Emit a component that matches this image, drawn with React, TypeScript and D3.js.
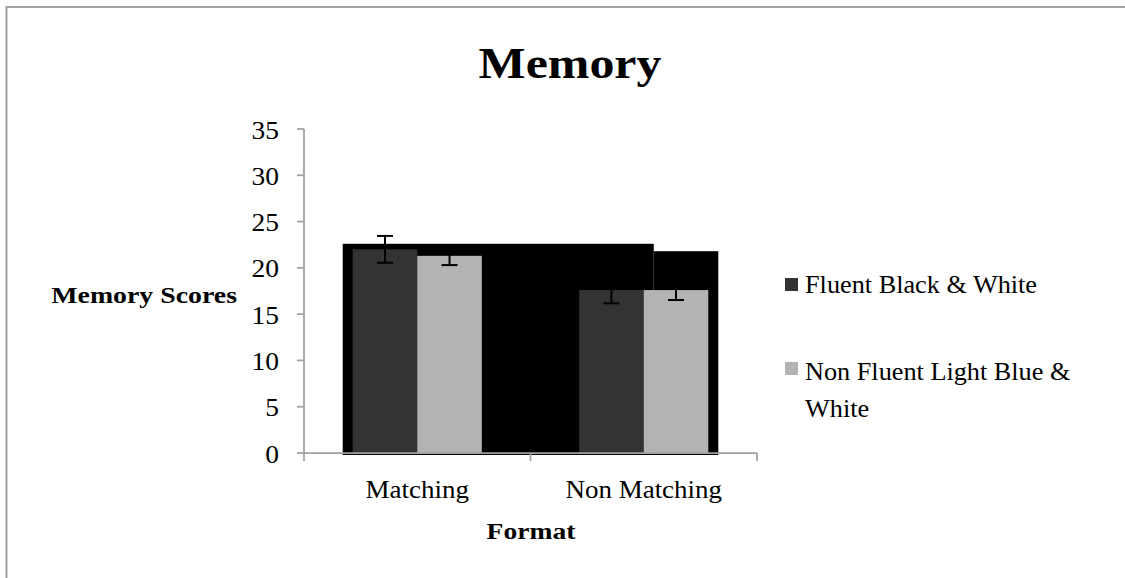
import React, { useEffect } from "react";
import * as d3 from "d3";

const categories = ["Matching", "Non Matching"];
const seriesNames = ["Fluent Black & White", "Non Fluent Light Blue & White"];
const fluentValues = [22.0, 17.6];
const nonFluentValues = [21.3, 17.6];
const fluentErrors = [1.45, 1.43];
const nonFluentErrors = [1.0, 1.07];
const backdropValues = [22.6, 21.8];
const yTicks = [0, 5, 10, 15, 20, 25, 30, 35];

const colors = ["#333333", "#b3b3b3"];
const axisColor = "#a0a0a0";
const font = "'Liberation Serif', 'Times New Roman', serif";

type WTextProps = {
  x: number;
  y: number;
  sx?: number;
  anchor?: "start" | "middle" | "end";
  size: number;
  bold?: boolean;
  children: React.ReactNode;
};

function WText({ x, y, sx = 1.1, anchor = "start", size, bold, children }: WTextProps) {
  return (
    <g transform={`translate(${x},${y}) scale(${sx},1)`}>
      <text x={0} y={0} textAnchor={anchor} fontSize={size} fontWeight={bold ? "bold" : "normal"} fill="#000">
        {children}
      </text>
    </g>
  );
}

export default function App() {
  const W = 1125;
  const H = 578;
  const left = 304;
  const right = 757;
  const top = 129;
  const bottom = 453;

  useEffect(() => {
    document.documentElement.style.overflow = "hidden";
    document.body.style.margin = "0";
    document.body.style.overflow = "hidden";
  }, []);

  const y = d3.scaleLinear().domain([0, 35]).range([bottom, top]);
  const x0 = d3
    .scaleBand<string>()
    .domain(categories)
    .range([left, right])
    .paddingInner(0.43)
    .paddingOuter(0.215);
  const x1 = d3
    .scaleBand<string>()
    .domain(seriesNames)
    .range([0, x0.bandwidth()]);

  const series = [
    { name: seriesNames[0], values: fluentValues, errors: fluentErrors, color: colors[0] },
    { name: seriesNames[1], values: nonFluentValues, errors: nonFluentErrors, color: colors[1] },
  ];

  const step = x0.step();
  const boundaries = [left, left + step, left + 2 * step];

  // black backdrop blocks (rendering artifact in the original)
  const b1Left = (x0(categories[0]) as number) - 10;
  const b1Right = (x0(categories[1]) as number) + (x1(seriesNames[0]) as number) + x1.bandwidth() + 10;
  const b2Right = (x0(categories[1]) as number) + x0.bandwidth() + 10;
  const backdrops = [
    { x: b1Left, w: b1Right - b1Left, v: backdropValues[0] },
    { x: b1Right, w: b2Right - b1Right, v: backdropValues[1] },
  ];

  const legendY = [278, 362];

  return (
    <svg
      width={W}
      height={H}
      style={{ position: "absolute", left: 0, top: 0, background: "#fff", display: "block", overflow: "hidden" }}
      fontFamily={font}
    >
      <rect x={0} y={0} width={W} height={H} fill="#fff" />
      <line x1={6} x2={W + 10} y1={7} y2={7} stroke={axisColor} strokeWidth={2} />
      <line x1={6.5} x2={6.5} y1={6} y2={H + 10} stroke={axisColor} strokeWidth={2} />

      {/* title */}
      <WText x={570} y={78} anchor="middle" size={45} bold sx={1.11}>
        Memory
      </WText>

      {/* backdrop */}
      {backdrops.map((b, i) => (
        <rect key={i} x={b.x} y={y(b.v)} width={b.w} height={bottom + 2 - y(b.v)} fill="#000" />
      ))}

      {/* bars */}
      {series.map((s) =>
        categories.map((c, i) => {
          const bx = (x0(c) as number) + (x1(s.name) as number);
          return (
            <rect
              key={s.name + c}
              x={bx}
              y={y(s.values[i])}
              width={x1.bandwidth()}
              height={bottom - y(s.values[i])}
              fill={s.color}
            />
          );
        })
      )}

      {/* error bars */}
      {series.map((s) =>
        categories.map((c, i) => {
          const cx = (x0(c) as number) + (x1(s.name) as number) + x1.bandwidth() / 2;
          const y1 = y(s.values[i] + s.errors[i]);
          const y2 = y(s.values[i] - s.errors[i]);
          return (
            <g key={"e" + s.name + c} stroke="#000" strokeWidth={2}>
              <line x1={cx} x2={cx} y1={y1} y2={y2} />
              <line x1={cx - 8} x2={cx + 8} y1={y1} y2={y1} />
              <line x1={cx - 8} x2={cx + 8} y1={y2} y2={y2} />
            </g>
          );
        })
      )}

      {/* y axis */}
      <line x1={left} x2={left} y1={top} y2={bottom} stroke={axisColor} strokeWidth={1.75} />
      {yTicks.map((t) => (
        <g key={t}>
          <line x1={left - 7} x2={left} y1={y(t)} y2={y(t)} stroke={axisColor} strokeWidth={1.75} />
          <WText x={279} y={y(t) + 9.5} anchor="end" size={25} sx={1.1}>
            {t}
          </WText>
        </g>
      ))}

      {/* x axis */}
      <line x1={left} x2={right} y1={bottom} y2={bottom} stroke={axisColor} strokeWidth={1.75} />
      {boundaries.map((bx, i) => (
        <line key={i} x1={bx} x2={bx} y1={bottom} y2={bottom + 8} stroke={axisColor} strokeWidth={1.75} />
      ))}
      {categories.map((c) => (
        <WText key={c} x={(x0(c) as number) + x0.bandwidth() / 2} y={498} anchor="middle" size={25} sx={1.08}>
          {c}
        </WText>
      ))}

      {/* axis titles */}
      <WText x={531} y={539} anchor="middle" size={24} bold sx={1.15}>
        Format
      </WText>
      <WText x={237} y={302.5} anchor="end" size={24} bold sx={1.16}>
        Memory Scores
      </WText>

      {/* legend */}
      <rect x={785} y={legendY[0]} width={13} height={13} fill={colors[0]} />
      <WText x={805} y={293.3} size={25} sx={1.05}>
        {seriesNames[0]}
      </WText>
      <rect x={785} y={legendY[1]} width={13} height={13} fill={colors[1]} />
      <WText x={805} y={380} size={25} sx={1.05}>
        Non Fluent Light Blue &amp;
      </WText>
      <WText x={805} y={416.7} size={25} sx={1.05}>
        White
      </WText>
    </svg>
  );
}
